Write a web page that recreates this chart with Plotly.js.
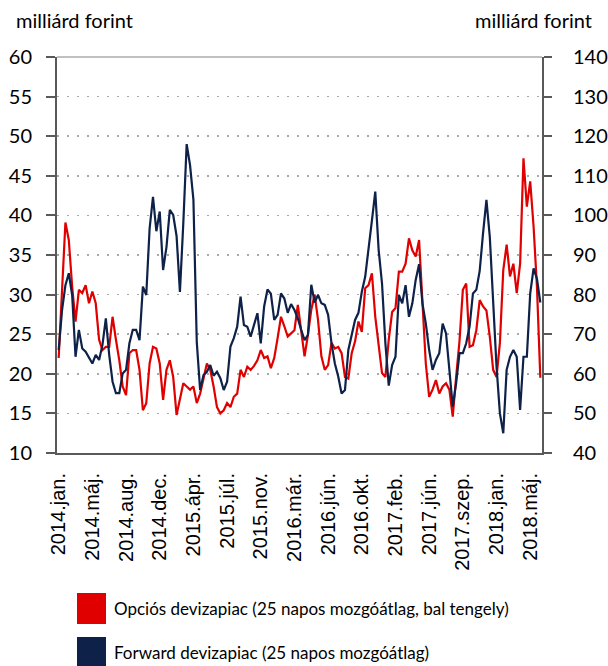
<!DOCTYPE html>
<html>
<head>
<meta charset="utf-8">
<script src="https://cdn.plot.ly/plotly-3.0.1.min.js"></script>
<style>html,body{margin:0;padding:0;background:#fff;}#chart{width:608px;height:666px;}</style>
</head>
<body>
<div id="chart"></div>
<script>
// Tick labels (category markers along the time axis) and their sample positions
const tickLabels = ["2014.jan.","2014.máj.","2014.aug.","2014.dec.","2015.ápr.","2015.júl.","2015.nov.","2016.már.","2016.jún.","2016.okt.","2017.feb.","2017.jún.","2017.szep.","2018.jan.","2018.máj."];
const tickPositions = [0,10,20,30,40,50,60,70,80,90,100,110,120,130,140];

// Series names
const nameOpcios = "Opciós devizapiac (25 napos mozgóátlag, bal tengely)";
const nameForward = "Forward devizapiac (25 napos mozgóátlag)";

// Opciós devizapiac, milliárd forint (left axis)
const opcios = [
  22, 30.4, 39.1, 36.9, 31, 26.6, 30.6, 30.2, 31.2, 28.9,
  30.4, 28.9, 24.3, 23, 23.4, 23.4, 27.2, 24.3, 21.7, 18.4,
  17.3, 22.6, 23, 23, 20.5, 15.4, 16.3, 21.3, 23.4, 23.2,
  21.3, 16.7, 20.5, 21.7, 19.6, 14.8, 16.7, 18.8, 18.4, 18,
  18.4, 16.3, 17.5, 19.6, 21.3, 20.5, 18.4, 15.8, 15, 15.4,
  16.3, 15.8, 17.1, 17.5, 20.5, 19.6, 20.9, 20.5, 21, 21.7,
  23, 22, 22.2, 20.7, 22, 24.5, 27.2, 26, 24.7, 25.1,
  25.5, 28.7, 25.1, 22.2, 24.9, 28.1, 30, 26.8, 22.2, 20.5,
  21.1, 23.9, 23.2, 23.4, 22.6, 19.6, 19.4, 22.6, 24.1, 26.6,
  25.3, 30.8, 31.2, 32.7, 27.2, 23.9, 20.1, 19.6, 24.3, 27.8,
  28.3, 32.9, 32.9, 33.9, 37.1, 35.6, 34.8, 36.9, 29.3, 21.3,
  17.1, 18, 19.2, 17.5, 18.4, 18.8, 18, 14.6, 19.6, 24.1,
  30.6, 31.4, 23.4, 23.6, 25.5, 29.3, 28.5, 28, 24.7, 20.5,
  19.6, 23.9, 33.1, 36.3, 32.3, 33.9, 30.2, 33.9, 47.2, 41.1,
  44.3, 38.6, 31, 19.5
];

// Forward devizapiac, milliárd forint (right axis)
const forward = [
  66, 76.1, 82.4, 85.4, 79.9, 64.3, 71.1, 66.4, 65.6, 63.9,
  62.6, 64.8, 63.5, 67.3, 74, 64.8, 58, 55.1, 55.1, 60.1,
  61, 67.7, 71.1, 71.1, 68.5, 82, 79.9, 96.7, 104.7, 96,
  101, 86.2, 92, 101.4, 100.1, 94.8, 80.7, 98, 118, 112.7,
  104, 68, 55.9, 59.7, 60.5, 62.2, 59.5, 60.5, 58.9, 55.9,
  58, 66.9, 69, 71.9, 79.5, 72.3, 71.9, 69.4, 72.4, 75.3,
  67.7, 77, 81.3, 80.2, 73.6, 74.9, 80.3, 79, 75.4, 77.6,
  76.1, 74, 71.1, 68.5, 69.8, 82.5, 78, 79.9, 77.8, 77.4,
  74.9, 67.7, 62.6, 59.3, 55, 55.9, 66, 69.8, 73.6, 75.4,
  80.7, 84.5, 92.5, 98.7, 106, 91.3, 82.8, 67.7, 57, 62.2,
  64.3, 79.9, 77.8, 82.4, 74.4, 77.8, 83.7, 87.7, 77.8, 72.7,
  66, 61, 63.5, 65.2, 72.7, 70.2, 61, 51.7, 57.6, 65.2,
  65.2, 67.7, 72, 80.3, 81.2, 86, 95.5, 103.9, 94.6, 78.2,
  61.8, 50, 45, 61, 64.3, 66, 64.3, 50.9, 64.3, 64.3,
  80.3, 86.6, 84, 78
];

const redColor = "#e00000";
const blueColor = "#0d2149";
const axisColor = "#595959";
const txtFont = "Lato, 'Liberation Sans', Arial, sans-serif";
const tickFontX = "'Liberation Sans', Arial, sans-serif";

const idx = opcios.map((_, i) => i);

const traces = [
  {x: idx, y: opcios, type: "scatter", mode: "lines", name: nameOpcios, yaxis: "y",
   line: {color: redColor, width: 2.2}, showlegend: false, hoverinfo: "skip"},
  {x: idx, y: forward, type: "scatter", mode: "lines", name: nameForward, yaxis: "y2",
   line: {color: blueColor, width: 2.2}, showlegend: false, hoverinfo: "skip"}
];

// plot area in px: left 57, right 542, top 57, bottom 453
const L = 57, R = 542, T = 57, B = 453, W = 608, H = 666;
const px2x = p => (p - L) / (R - L);
const py2y = p => (B - p) / (B - T);

const layout = {
  width: W, height: H,
  margin: {l: L, r: W - R, t: T, b: H - B, pad: 0},
  paper_bgcolor: "#fff", plot_bgcolor: "#fff",
  showlegend: false,
  xaxis: {
    range: [-0.5, idx.length - 0.5],
    tickmode: "array", tickvals: tickPositions, ticktext: tickLabels,
    tickangle: -90, ticks: "", showgrid: false, zeroline: false,
    showline: true, linecolor: axisColor, linewidth: 2,
    tickfont: {family: tickFontX, size: 20, color: "#000"},
    ticklabelstandoff: 10
  },
  yaxis: {
    range: [10, 60], dtick: 5, tick0: 10,
    ticks: "outside", ticklen: 9, tickwidth: 2, tickcolor: axisColor,
    showline: true, linecolor: axisColor, linewidth: 2,
    showgrid: true, gridcolor: "#a8a8a8", gridwidth: 1.5, griddash: "2px,8px",
    zeroline: false,
    tickfont: {family: txtFont, size: 20, color: "#000"},
    ticklabelstandoff: 10
  },
  yaxis2: {
    range: [40, 140], dtick: 10, tick0: 40, overlaying: "y", side: "right",
    ticks: "outside", ticklen: 8, tickwidth: 2, tickcolor: axisColor,
    showline: true, linecolor: axisColor, linewidth: 2,
    showgrid: false, zeroline: false,
    tickfont: {family: txtFont, size: 20, color: "#000"},
    ticklabelstandoff: 17
  },
  shapes: [
    {type: "line", xref: "paper", yref: "paper", x0: 0, x1: 1, y0: 1, y1: 1,
     line: {color: "#c0c0c0", width: 2}},
    {type: "rect", xref: "paper", yref: "paper", x0: px2x(77), x1: px2x(106), y0: py2y(624), y1: py2y(593),
     fillcolor: redColor, line: {width: 0}},
    {type: "rect", xref: "paper", yref: "paper", x0: px2x(77), x1: px2x(106), y0: py2y(668), y1: py2y(637),
     fillcolor: blueColor, line: {width: 0}}
  ],
  annotations: [
    {text: "milliárd forint", xref: "paper", yref: "paper", x: px2x(14), y: py2y(20),
     xanchor: "left", yanchor: "middle", showarrow: false, font: {family: txtFont, size: 20, color: "#000"}},
    {text: "milliárd forint", xref: "paper", yref: "paper", x: px2x(594), y: py2y(20),
     xanchor: "right", yanchor: "middle", showarrow: false, font: {family: txtFont, size: 20, color: "#000"}},
    {text: nameOpcios, xref: "paper", yref: "paper", x: px2x(112), y: py2y(608),
     xanchor: "left", yanchor: "middle", showarrow: false, font: {family: txtFont, size: 17, color: "#000"}},
    {text: nameForward, xref: "paper", yref: "paper", x: px2x(112), y: py2y(652),
     xanchor: "left", yanchor: "middle", showarrow: false, font: {family: txtFont, size: 17, color: "#000"}}
  ]
};

Plotly.newPlot("chart", traces, layout, {staticPlot: true, displayModeBar: false});
</script>
</body>
</html>
